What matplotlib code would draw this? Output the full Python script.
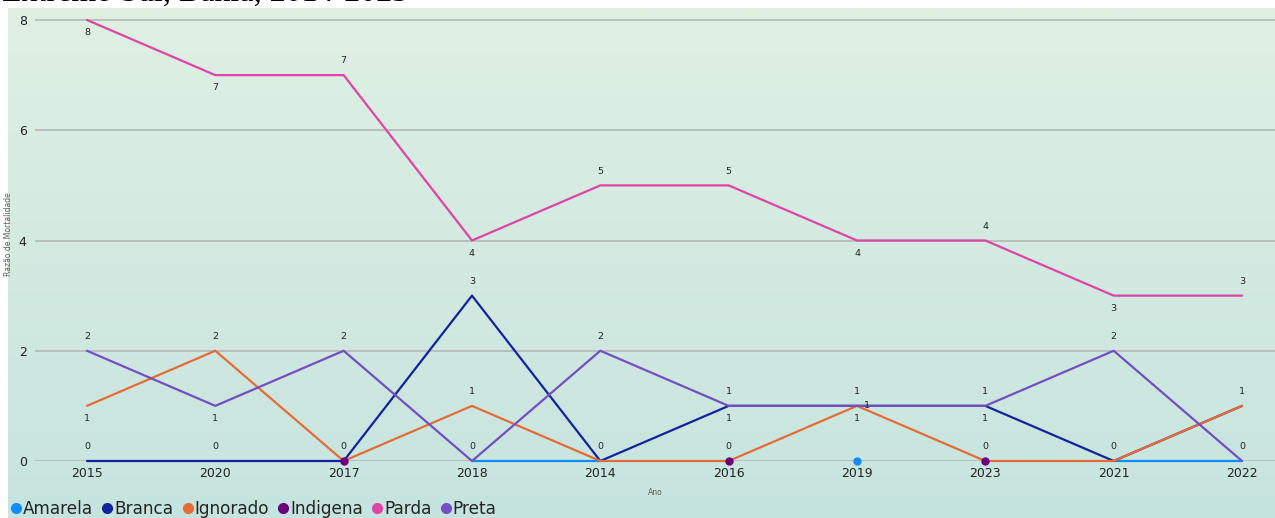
import matplotlib
matplotlib.use('Agg')
import matplotlib.pyplot as plt
import numpy as np
from matplotlib.colors import LinearSegmentedColormap
from matplotlib.lines import Line2D

nan = np.nan

# -------------------------------------------------------------------
# data (x axis is categorical, order as shown)
anos = ['2015', '2020', '2017', '2018', '2014', '2016', '2019', '2023', '2021', '2022']

amarela = [nan, nan, nan, 0, 0, nan, 0, nan, 0, 0]
branca = [0, 0, 0, 3, 0, 1, 1, 1, 0, 1]
ignorado = [1, 2, 0, 1, 0, 0, 1, 0, 0, 1]
indigena = [nan, nan, 0, nan, nan, 0, nan, 0, nan, nan]
parda = [8, 7, 7, 4, 5, 5, 4, 4, 3, 3]
preta = [2, 1, 2, 0, 2, 1, 1, 1, 2, 0]

series_names = ['Amarela', 'Branca', 'Ignorado', 'Indigena', 'Parda', 'Preta']
series_vals = [amarela, branca, ignorado, indigena, parda, preta]
colors = ['#118DFF', '#12239E', '#E66C37', '#6B007B', '#E044A7', '#744EC2']

# label placement per point: a=above, b=below, r=right, None=hidden
label_pos = {
    'Amarela': [None] * 10,
    'Branca': ['a', 'a', 'a', 'a', 'a', 'b', 'b', 'b', 'a', None],
    'Ignorado': ['b', 'a', None, 'a', None, None, 'r', None, None, 'a'],
    'Indigena': [None, None, None, None, None, 'a', None, 'a', None, None],
    'Parda': ['b', 'b', 'a', 'b', 'a', 'a', 'b', 'a', 'b', 'a'],
    'Preta': ['a', 'b', 'a', 'a', 'a', 'a', 'a', 'a', 'a', 'a'],
}

# -------------------------------------------------------------------
W, H = 1275, 518
fig = plt.figure(figsize=(W / 100, H / 100), dpi=100)

# gradient background panel
bg = fig.add_axes([8 / W, 0, 1 - 8 / W, (H - 8) / H], zorder=-10)
cmap = LinearSegmentedColormap.from_list('bg', ['#c6e4df', '#dff0e3'])
grad = np.linspace(0, 1, 256).reshape(-1, 1)
bg.imshow(grad, aspect='auto', cmap=cmap, origin='lower', extent=[0, 1, 0, 1])
bg.axis('off')

ax = fig.add_axes([35 / W, 57 / H, 1 - 35 / W, (510 - 57) / H])
ax.patch.set_alpha(0)

x = np.arange(len(anos))
for name, vals, c in zip(series_names, series_vals, colors):
    v = np.array(vals, dtype=float)
    ax.plot(x, v, color=c, lw=1.6, clip_on=False, zorder=3, solid_capstyle='round')
    # isolated points get a dot
    for i in range(len(v)):
        if np.isnan(v[i]):
            continue
        left = np.isnan(v[i - 1]) if i > 0 else True
        right = np.isnan(v[i + 1]) if i < len(v) - 1 else True
        if left and right:
            ax.plot(x[i], v[i], 'o', color=c, ms=5, clip_on=False, zorder=4)
    # data labels
    for i, p in enumerate(label_pos[name]):
        if p is None or np.isnan(v[i]):
            continue
        if p == 'a':
            off, ha, va = (0, 7), 'center', 'bottom'
        elif p == 'b':
            off, ha, va = (0, -6), 'center', 'top'
        else:
            off, ha, va = (5, 0), 'left', 'center'
        ax.annotate(f'{int(v[i])}', (x[i], v[i]), xytext=off,
                    textcoords='offset points', ha=ha, va=va,
                    fontsize=6.8, color='#252423', zorder=5)

ax.set_xlim(-0.405, 9.257)
ax.set_ylim(0, 8 + 12 / 55.125)
ax.set_xticks(x)
ax.set_xticklabels(anos)
ax.set_yticks([0, 2, 4, 6, 8])
ax.tick_params(length=0, labelsize=9, colors='#252423')
ax.tick_params(axis='x', pad=4)
ax.tick_params(axis='y', pad=6)
ax.grid(axis='y', color='#b4b8b6', lw=1.2)
ax.set_axisbelow(True)
for s in ax.spines.values():
    s.set_visible(False)

ax.set_xlabel('Ano', fontsize=5.5, color='#605e5c', labelpad=6)
ax.set_ylabel('Razão de Mortalidade', fontsize=5.5, color='#605e5c')
ax.yaxis.set_label_coords(-0.0177, 0.5)

# legend at bottom, partly cut off
handles = [Line2D([], [], marker='o', ls='', color=c, ms=7) for c in colors]
fig.legend(handles, series_names, loc='lower left', ncol=6,
           bbox_to_anchor=(-0.004, -0.03), frameon=False, fontsize=12.2,
           handletextpad=0.05, columnspacing=0.5, handlelength=0.7,
           labelcolor='#252423')

# title, cut at the top edge
fig.text(2 / W, 1.012, 'Extremo Sul, Bahia, 2014-2023', fontsize=23,
         family='Liberation Serif', va='center', ha='left', color='black')

plt.savefig('out.png', dpi=100)
